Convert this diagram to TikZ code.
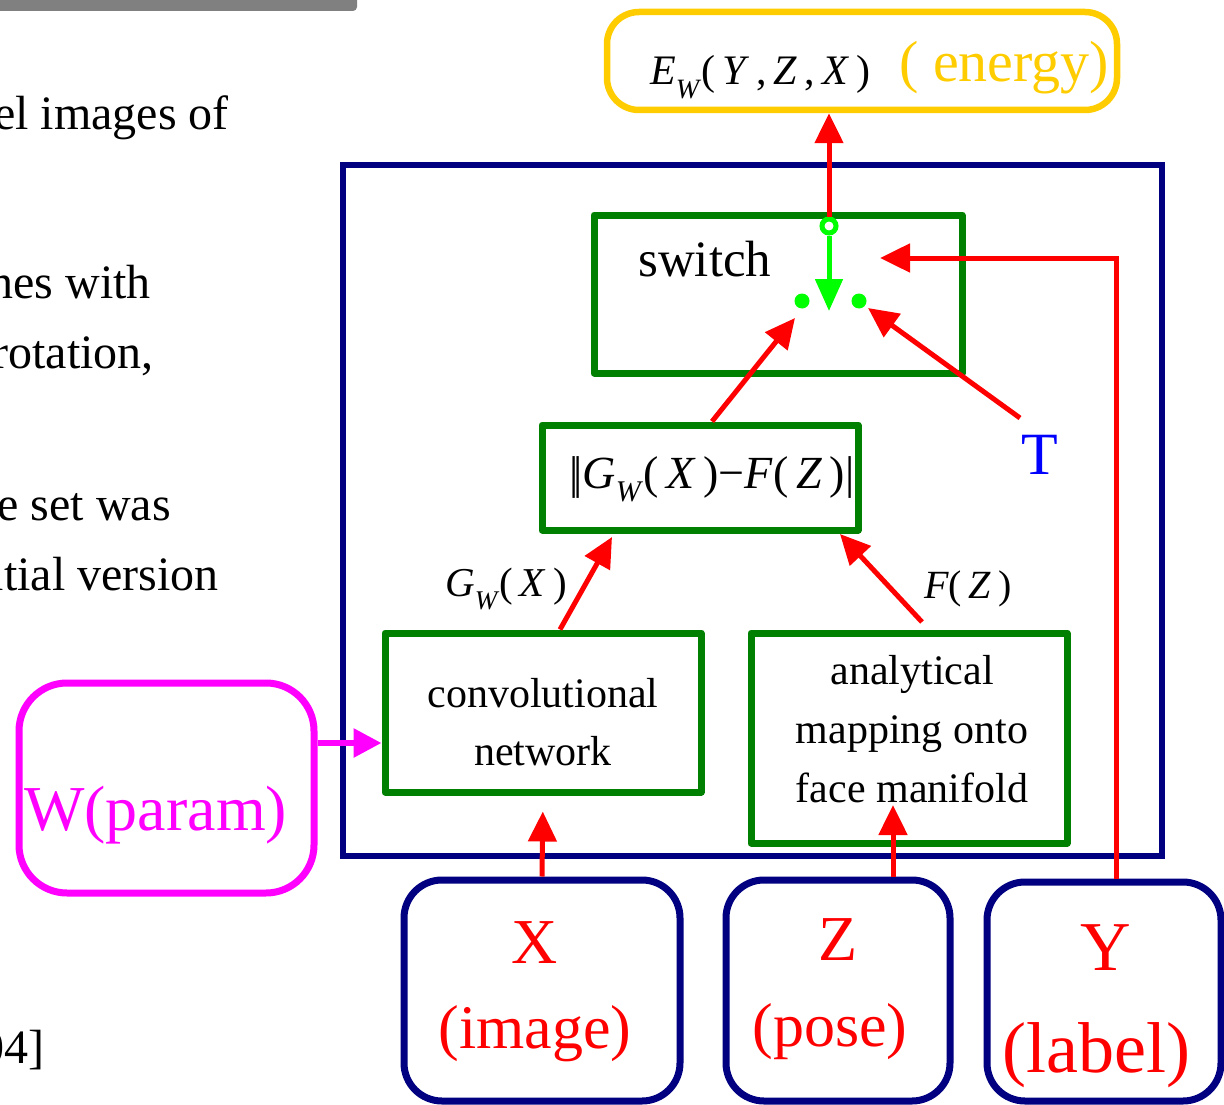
\documentclass[tikz,border=0pt]{standalone}
\usepackage{fontspec}
\setmainfont{Liberation Serif}
\usetikzlibrary{arrows.meta,calc}
\definecolor{navyc}{RGB}{0,0,128}
\definecolor{greenc}{RGB}{0,128,0}
\definecolor{limec}{RGB}{0,255,0}
\definecolor{goldc}{RGB}{255,204,0}
\definecolor{magc}{RGB}{255,0,255}
\definecolor{redc}{RGB}{255,0,0}
\definecolor{bluec}{RGB}{0,0,255}
\definecolor{grayc}{RGB}{128,128,128}
\newcommand\fsz[1]{\fontsize{#1}{#1}\selectfont}
\begin{document}
\begin{tikzpicture}[x=1pt,y=-1pt,
  gbox/.style={draw=greenc,line width=7pt,line join=round,rectangle,inner sep=0pt},
  ibox/.style={draw=navyc,line width=7pt,rectangle,rounded corners=38pt,inner sep=0pt},
  redarrow/.style={draw=redc,line width=5pt,-{Triangle[length=30pt,width=28pt]}},
  redline/.style={draw=redc,line width=5pt},
  slide/.style={anchor=base east,font=\fsz{48},inner sep=0pt},
  redtxt/.style={text=redc,inner sep=0pt,align=center},
  dot/.style={circle,fill=limec,minimum size=15pt,inner sep=0pt}
]
\useasboundingbox (0,0) rectangle (1224,1105);
\clip (0,0) rectangle (1224,1105);

% background slide fragments
\fill[grayc,rounded corners=4pt] (-20,-20) rectangle (357,11);
\node[slide] (t1) at (229,130) {el images of};
\node[slide] (t2) at (151,298) {nes with};
\node[slide] (t3) at (154,368) {rotation,};
\node[slide] (t4) at (171,520) {e set was};
\node[slide] (t5) at (219,590) {itial version};
\node[slide] (t6) at (45,1063) {04]};

% outer box
\node[draw=navyc,line width=6pt,rectangle,minimum width=819pt,minimum height=691pt,inner sep=0pt] (outer) at (752.5,510.5) {};

% energy box
\node[draw=goldc,line width=6.5pt,rectangle,rounded corners=32pt,minimum width=510pt,minimum height=98pt,inner sep=0pt] (energy) at (862,61) {};
\node[anchor=base west,inner sep=0pt] (etxt) at (650,85) {\fsz{42}\textit{E}\raisebox{-0.32em}{\fsz{28}\textit{W}}(\,\textit{Y}\,,\,\textit{Z}\,,\,\textit{X}\,)};
\node[anchor=base west,inner sep=0pt,text=goldc] (elab) at (899,82) {\fsz{58}( energy)};

% switch
\node[gbox,minimum width=368pt,minimum height=158pt] (switch) at (778,294) {};
\node[anchor=base west,inner sep=0pt] (swtxt) at (638,276) {\fsz{51}switch};
\node[circle,draw=limec,fill=white,line width=5pt,minimum size=14pt,inner sep=0pt] (sw0) at (829,226) {};
\coordinate (swtip) at (829,311);
\node[dot] (dotL) at (802,301) {};
\node[dot] (dotR) at (859,301) {};
\draw[draw=limec,line width=5pt,-{Triangle[length=32pt,width=27pt]}] (sw0.south) -- (swtip);

% energy arrow
\draw[redarrow] (sw0.north) -- (sw0.north |- energy.south);

% norm box
\node[gbox,minimum width=316pt,minimum height=105pt] (norm) at (700,477.5) {};
\node[anchor=base west,inner sep=0pt] (ntxt) at (569,488) {\fsz{46}|\kern-5pt|\textit{G}\raisebox{-0.3em}{\fsz{30}\textit{W}}(\,\textit{X}\,)\char"2212\textit{F}(\,\textit{Z}\,)|};

% conv and mapping
\node[gbox,minimum width=316pt,minimum height=159pt] (conv) at (543,712.5) {};
\node[inner sep=0pt,align=center,font=\fontsize{42}{58}\selectfont] (convtxt) at (543,722) {convolutional\\network};
\node[gbox,minimum width=316pt,minimum height=210pt] (map) at (909,738) {};
\node[inner sep=0pt,align=center,font=\fontsize{42}{59}\selectfont] (maptxt) at (912,729) {analytical\\mapping onto\\face manifold};

% labels G_W(X), F(Z)
\node[anchor=base west,inner sep=0pt] (glab) at (445,596) {\fsz{41}\textit{G}\raisebox{-0.32em}{\fsz{27}\textit{W}}(\,\textit{X}\,)};
\node[anchor=base west,inner sep=0pt] (flab) at (924,598) {\fsz{40}\textit{F}(\,\textit{Z}\,)};

% T
\node[text=bluec,inner sep=0pt] (T) at (1040,455) {\fsz{60}T};

% inputs
\node[ibox,minimum width=276pt,minimum height=221pt] (Xb) at (542,990.5) {};
\node[ibox,minimum width=224pt,minimum height=221pt] (Zb) at (838,990.5) {};
\node[ibox,minimum width=234pt,minimum height=219pt] (Yb) at (1104,991.5) {};
\node[redtxt] (Xl) at (535,943) {\fsz{64}X};
\node[redtxt] (Xs) at (535,1034) {\fsz{62}(image)};
\node[redtxt] (Zl) at (838,940) {\fsz{64}Z};
\node[redtxt] (Zs) at (830,1032) {\fsz{62}(pose)};
\node[redtxt] (Yl) at (1106,948) {\fsz{70}Y};
\node[redtxt] (Ys) at (1096,1055) {\fsz{72}(label)};

% W param
\node[draw=magc,line width=7pt,rectangle,rounded corners=48pt,minimum width=295pt,minimum height=210pt,inner sep=0pt] (W) at (166.5,788) {};
\node[anchor=base west,inner sep=0pt,text=magc] (Wtxt) at (24,830) {\fsz{64}W(param)};
\draw[draw=magc,line width=6pt,-{Triangle[length=28pt,width=28pt]}] ($(W.east)+(0,-45)$) -- ($(conv.west)+(0,30.5)$);

% red connectors
\draw[redarrow,shorten >=16pt] (Xb.north) -- (conv.south);
\coordinate (zt) at (893,805);
\draw[redarrow] ($(Zb.north)+(55,0)$) -- (zt);
\coordinate (gt) at (612,537);
\draw[redarrow] ($(conv.north)+(17,0)$) -- (gt);
\coordinate (ft) at (840,534);
\coordinate (fs) at (922,622);
\draw[redarrow] (fs) -- (ft);
\coordinate (nt) at (795,318);
\draw[redarrow] ($(norm.north)+(12,0)$) -- (nt);
\coordinate (ts) at (1020,418);
\coordinate (tt) at (868,308);
\draw[redarrow] (ts) -- (tt);
\coordinate (yc) at (1116,258);
\coordinate (yt) at (880,258);
\draw[redline] ($(Yb.north)+(12,0)$) -- (yc);
\draw[redarrow] ($(yc)+(2.5,0)$) -- (yt);
\end{tikzpicture}
\end{document}
